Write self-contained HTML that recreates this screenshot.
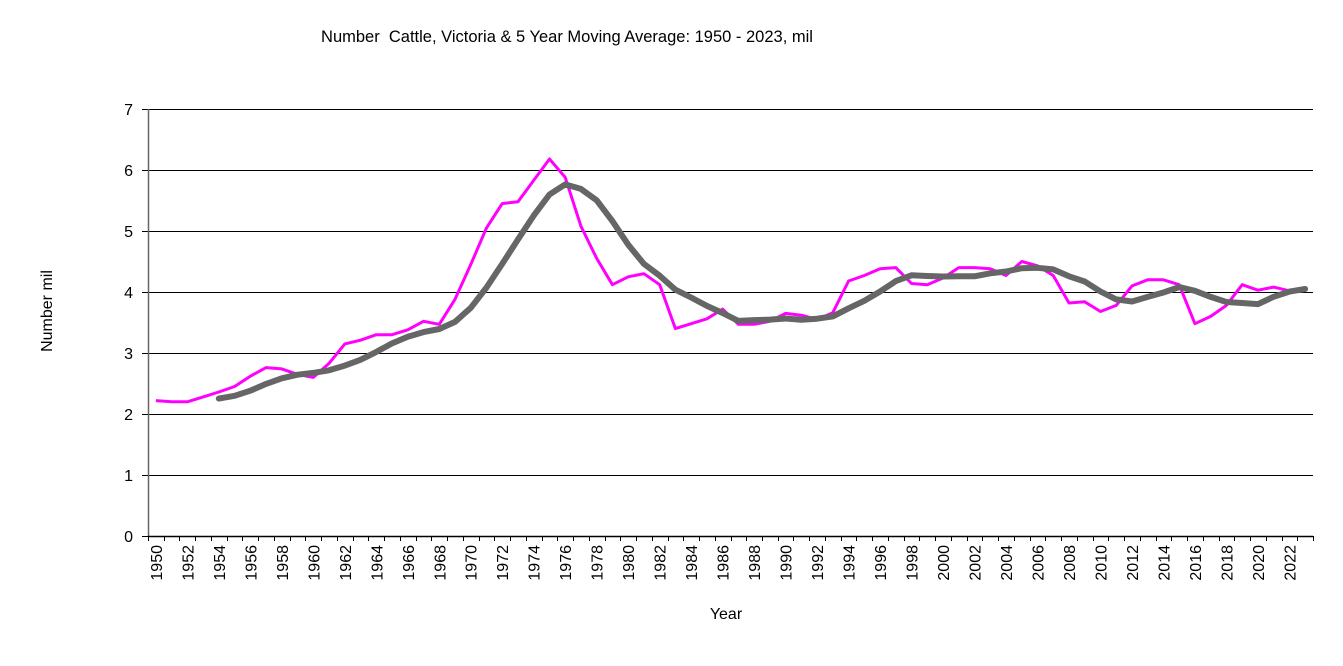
<!DOCTYPE html>
<html><head><meta charset="utf-8"><style>
html,body{margin:0;padding:0;background:#fff;}
svg{display:block;font-family:"Liberation Sans",Arial,sans-serif;}
</style></head><body>
<svg id="s" width="1343" height="666" xmlns="http://www.w3.org/2000/svg">
<text x="567" y="42" font-size="16.5" text-anchor="middle" xml:space="preserve">Number  Cattle, Victoria &amp; 5 Year Moving Average: 1950 - 2023, mil</text>
<text transform="translate(52,311) rotate(-90)" font-size="16" text-anchor="middle">Number mil</text>
<text x="726" y="619" font-size="16" text-anchor="middle">Year</text>
<g id="g"></g>
</svg>
<script>
var v=[2.22,2.20,2.20,2.28,2.36,2.45,2.62,2.76,2.74,2.65,2.60,2.83,3.15,3.21,3.30,3.30,3.38,3.52,3.47,3.88,4.45,5.05,5.45,5.48,5.83,6.18,5.88,5.08,4.55,4.12,4.25,4.30,4.12,3.40,3.48,3.56,3.72,3.47,3.47,3.52,3.65,3.62,3.55,3.66,4.18,4.27,4.38,4.40,4.14,4.12,4.23,4.40,4.40,4.38,4.27,4.50,4.43,4.27,3.82,3.84,3.68,3.78,4.10,4.20,4.20,4.12,3.48,3.60,3.78,4.12,4.03,4.08,4.02,4.00];
var L=148,R=1313,T=109,B=536,n=74,st=(R-L)/n;
function X(i){return L+st*(i+0.5);}function Y(a){return B-(B-T)/7*a;}
function G(a){return Math.round(Y(a))+0.5;}
var h='';
for(var k=1;k<=7;k++)h+='<line x1="'+L+'" x2="'+R+'" y1="'+G(k)+'" y2="'+G(k)+'" stroke="#000" stroke-width="1"/>';
for(var k=0;k<=7;k++)h+='<text x="133" y="'+(Y(k)+6)+'" font-size="16" text-anchor="end">'+k+'</text><line x1="142" x2="148" y1="'+G(k)+'" y2="'+G(k)+'" stroke="#000"/>';
h+='<line x1="'+(L+0.5)+'" x2="'+(L+0.5)+'" y1="'+T+'" y2="'+B+'" stroke="#666" stroke-width="1.5"/>';
h+='<line x1="'+L+'" x2="'+R+'" y1="'+(B+0.5)+'" y2="'+(B+0.5)+'" stroke="#000" stroke-width="1.5"/>';
for(var i=0;i<=n;i++){var x=Math.round(L+st*i)+0.5;h+='<line x1="'+x+'" x2="'+x+'" y1="'+B+'" y2="'+(B+5)+'" stroke="#000"/>';}
for(var i=0;i<n;i+=2)h+='<text transform="translate('+(X(i)+6)+',545) rotate(-90)" font-size="16" text-anchor="end">'+(1950+i)+'</text>';
var p='';for(var i=0;i<73;i++)p+=(i?'L':'M')+X(i).toFixed(1)+','+Y(v[i]).toFixed(1);
h+='<path d="'+p+'" fill="none" stroke="#FF00FF" stroke-width="3" stroke-linejoin="round"/>';
var q='';for(var i=4;i<n;i++){var a=(v[i]+v[i-1]+v[i-2]+v[i-3]+v[i-4])/5;q+=(i>4?'L':'M')+X(i).toFixed(1)+','+Y(a).toFixed(1);}
h+='<path d="'+q+'" fill="none" stroke="#666" stroke-width="6" stroke-linejoin="round" stroke-linecap="round"/>';
document.getElementById('g').innerHTML=h;
</script>
</body></html>
